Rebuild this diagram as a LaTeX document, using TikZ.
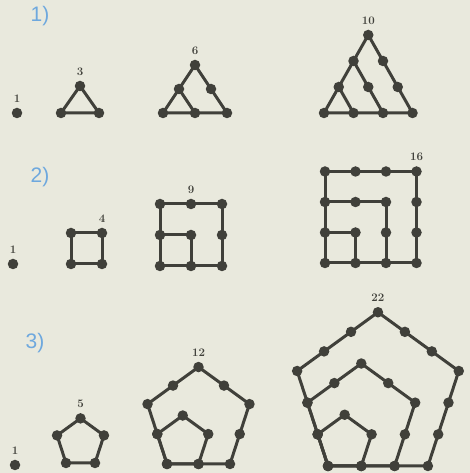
\documentclass[tikz,border=0pt]{standalone}
\usepackage{fontspec}
\usepackage{tikz}
\usetikzlibrary{positioning}
\newfontfamily\partfont{Liberation Sans}
\definecolor{paper}{RGB}{233,233,221}
\definecolor{ink}{RGB}{64,64,58}
\definecolor{partblue}{RGB}{110,168,222}

\begin{document}
\begin{tikzpicture}[
  x=1pt, y=1pt,
  dot/.style={circle, fill=ink, inner sep=0pt, minimum size=10.5pt},
  rib/.style={draw=ink, line width=3pt, line join=round},
  num/.style={font=\fontsize{11.5}{11.5}\selectfont\bfseries, text=ink, inner sep=1pt},
  part/.style={font=\partfont\fontsize{21}{21}\selectfont, text=partblue},
]
  \fill[paper] (0,0) rectangle (470,473);
  \useasboundingbox (0,0) rectangle (470,473);

  % 1) triangles
  \node[part] (part1) at (40,457) {1)};
  \node[dot] (t1) at (17,360) {};
  \node[num, above=4pt of t1] (t1-lbl) {1};
  \foreach \nm/\xo/\sd/\h/\m/\lbl in {t3/61/38/27/1/3, t6/163/32/24/2/6, t10/324/29.5/26/3/10}{
    \foreach \r in {0,...,\m}{
      \pgfmathtruncatemacro\kmax{\m-\r}
      \foreach \k in {0,...,\kmax}
        \node[dot] (\nm-\r-\k) at ({\xo+\k*\sd+\r*\sd/2},{360+\r*\h}) {};
    }
    \draw[rib] (\nm-\m-0.center) -- (\nm-0-0.center) -- (\nm-0-\m.center);
    \foreach \j in {1,...,\m}
      \draw[rib] (\nm-\j-0.center) -- (\nm-0-\j.center);
    \node[num, above=4pt of \nm-\m-0] (\nm-lbl) {\lbl};
  }

  % 2) squares
  \node[part] (part2) at (40,296) {2)};
  \node[dot] (s1) at (13,209) {};
  \node[num, above=4pt of s1] (s1-lbl) {1};
  \foreach \nm/\xo/\yo/\sd/\m/\lc/\lbl in {s4/71/209/31/1/1/4, s9/160/207/31/2/1/9, s16/325/210/30.5/3/3/16}{
    \foreach \i in {0,...,\m}
      \foreach \j in {0,...,\m}
        \node[dot] (\nm-\i-\j) at ({\xo+\i*\sd},{\yo+\j*\sd}) {};
    \draw[rib] (\nm-0-\m.center) -- (\nm-0-0.center) -- (\nm-\m-0.center);
    \foreach \q in {1,...,\m}
      \draw[rib] (\nm-0-\q.center) -- (\nm-\q-\q.center) -- (\nm-\q-0.center);
    \node[num, above=4pt of \nm-\lc-\m] (\nm-lbl) {\lbl};
  }

  % 3) pentagons
  \node[part] (part3) at (35,130) {3)};
  \node[dot] (q1) at (15,8) {};
  \node[num, above=4pt of q1] (q1-lbl) {1};
  \foreach \nm/\ax/\ay/\sd/\m/\lbl in {p5/66/10/29/1/5, p12/167/9/31.5/2/12, p22/328/7/33.3/3/22}{
    \foreach \k in {1,...,\m}{
      \pgfmathtruncatemacro\imax{\k-1}
      \foreach \side/\vx/\vy in {0/0/0, 1/1/0, 2/1.309/0.951, 3/0.5/1.539, 4/-0.309/0.951}
        \foreach \i in {0,...,\imax}
          \node[dot] (\nm-\k-\side-\i) at ({\ax+\k*\sd*(\vx)+\i*\sd*cos(72*\side)},{\ay+\k*\sd*(\vy)+\i*\sd*sin(72*\side)}) {};
      \draw[rib] (\nm-\k-0-0.center) -- (\nm-\k-1-0.center) -- (\nm-\k-2-0.center)
        -- (\nm-\k-3-0.center) -- (\nm-\k-4-0.center) -- cycle;
    }
    \node[num, above=4pt of \nm-\m-3-0] (\nm-lbl) {\lbl};
  }
\end{tikzpicture}
\end{document}
